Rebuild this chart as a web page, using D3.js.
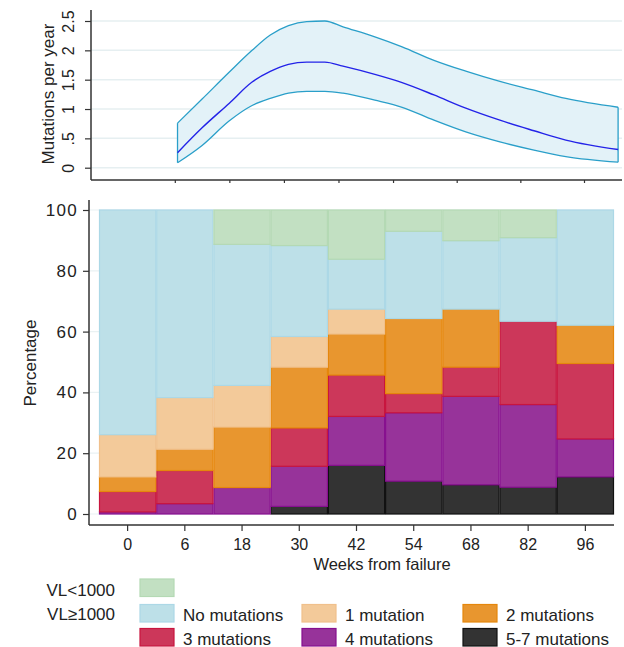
<!DOCTYPE html>
<html>
<head>
<meta charset="utf-8">
<script src="https://cdn.jsdelivr.net/npm/d3@7"></script>
<style>
  body { margin: 0; background: #fff; }
  svg { display: block; font-family: "Liberation Sans", Arial, sans-serif; }
</style>
</head>
<body>
<svg id="chart" width="624" height="647"></svg>
<script>
// top panel: mutation rate curve with band
const rateWeeks = [6.6, 12, 18, 23, 27, 31, 35, 39, 43, 50, 56, 63, 70, 77.5, 85, 92, 103.5];
const rateMean  = [0.256, 0.68, 1.10, 1.46, 1.64, 1.76, 1.80, 1.80, 1.73, 1.59, 1.45, 1.24, 1.015, 0.81, 0.63, 0.47, 0.31];
const rateUpper = [0.76, 1.17, 1.63, 2.0, 2.26, 2.42, 2.49, 2.50, 2.40, 2.23, 2.06, 1.83, 1.645, 1.47, 1.32, 1.18, 1.03];
const rateLower = [0.085, 0.38, 0.80, 1.06, 1.18, 1.27, 1.30, 1.30, 1.27, 1.15, 1.03, 0.81, 0.61, 0.44, 0.30, 0.19, 0.095];
const topTicksX = [6, 18, 30, 42, 54, 68, 82, 96];
const topTicksY = [0, 0.5, 1, 1.5, 2, 2.5];
const topTickLabels = ["0", ".5", "1", "1.5", "2", "2.5"];

// bottom panel: stacked percentages
const weeks = ["0", "6", "18", "30", "42", "54", "68", "82", "96"];
const mut57  = [0, 0, 0, 2.5, 16.0, 10.8, 9.6, 8.8, 12.2];
const mut4   = [0.7, 3.4, 8.7, 13.2, 16.1, 22.5, 29.1, 27.2, 12.5];
const mut3   = [6.7, 10.9, 0, 12.6, 13.6, 6.3, 9.6, 27.4, 24.8];
const mut2   = [4.8, 7.0, 19.9, 20.0, 13.5, 24.7, 19.1, 0, 12.6];
const mut1   = [13.9, 17.0, 13.7, 10.1, 8.2, 0, 0, 0, 0];
const mut0   = [73.9, 61.7, 46.4, 29.9, 16.4, 28.7, 22.5, 27.5, 37.9];
const vlLow  = [0, 0, 11.3, 11.7, 16.2, 7.0, 10.1, 9.1, 0];
const pctTicks = [0, 20, 40, 60, 80, 100];

const seriesNames = ["5-7 mutations", "4 mutations", "3 mutations", "2 mutations", "1 mutation", "No mutations", "VL<1000"];
const seriesValues = [mut57, mut4, mut3, mut2, mut1, mut0, vlLow];
const fills   = ["#333333", "#97339a", "#cc375a", "#e8962f", "#f3ca9a", "#bde0e8", "#c2e0c2"];
const strokes = ["#111111", "#87108f", "#c8153e", "#e5870c", "#f0c08c", "#acd8e6", "#b4d9b4"];

const svg = d3.select("#chart");
const axisColor = "#333";

// ---------- top panel ----------
const xTop = d3.scaleLinear().domain([6, 96]).range([174.8, 584]);
const yTop = d3.scaleLinear().domain([0, 2.5]).range([167.7, 21]);
const topG = svg.append("g");

topG.selectAll(".gridTop")
  .data(topTicksY)
  .enter().append("line")
  .attr("x1", 91).attr("x2", 622)
  .attr("y1", d => yTop(d)).attr("y2", d => yTop(d))
  .attr("stroke", "#e6eff1").attr("stroke-width", 1.5);

const rateData = rateWeeks.map((w, i) => ({ w, m: rateMean[i], lo: rateLower[i], hi: rateUpper[i] }));
const first = rateData[0], last = rateData[rateData.length - 1];

topG.append("path")
  .datum(rateData)
  .attr("fill", "#e3f2f8")
  .attr("stroke", "none")
  .attr("d", d3.area().x(d => xTop(d.w)).y0(d => yTop(d.lo)).y1(d => yTop(d.hi)).curve(d3.curveMonotoneX));

// band edges
["hi", "lo"].forEach(key => {
  topG.append("path")
    .datum(rateData)
    .attr("fill", "none")
    .attr("stroke", "#2a9fc9")
    .attr("stroke-width", 1.3)
    .attr("d", d3.line().x(d => xTop(d.w)).y(d => yTop(d[key])).curve(d3.curveMonotoneX));
});
[first, last].forEach(d => {
  topG.append("line")
    .attr("x1", xTop(d.w)).attr("x2", xTop(d.w))
    .attr("y1", yTop(d.lo)).attr("y2", yTop(d.hi))
    .attr("stroke", "#2a9fc9").attr("stroke-width", 1.3);
});

topG.append("path")
  .datum(rateData)
  .attr("fill", "none")
  .attr("stroke", "#2323e8")
  .attr("stroke-width", 1.4)
  .attr("d", d3.line().x(d => xTop(d.w)).y(d => yTop(d.m)).curve(d3.curveMonotoneX));

// axes
topG.append("line").attr("x1", 91).attr("x2", 91).attr("y1", 10).attr("y2", 180)
  .attr("stroke", axisColor).attr("stroke-width", 1.5);
topG.append("line").attr("x1", 91).attr("x2", 622).attr("y1", 180).attr("y2", 180)
  .attr("stroke", axisColor).attr("stroke-width", 1.5);

const yAxisTop = topG.append("g")
  .attr("transform", "translate(91,0)")
  .call(d3.axisLeft(yTop).tickValues(topTicksY).tickSize(6).tickFormat((d, i) => topTickLabels[i]));
yAxisTop.select(".domain").remove();
yAxisTop.selectAll("line").attr("stroke", axisColor).attr("stroke-width", 1.2);
yAxisTop.selectAll("text")
  .attr("x", null).attr("dy", null)
  .attr("transform", "translate(-17,0) rotate(-90)")
  .attr("text-anchor", "middle")
  .style("font-size", "16px").style("font-family", "Liberation Sans, Arial, sans-serif")
  .attr("fill", "#222");

const xAxisTop = topG.append("g")
  .attr("transform", "translate(0,180)")
  .call(d3.axisBottom(xTop).tickValues(topTicksX).tickSize(3).tickFormat(""));
xAxisTop.select(".domain").remove();
xAxisTop.selectAll("line").attr("stroke", axisColor).attr("stroke-width", 1.2);

topG.append("text")
  .attr("transform", "translate(54,94) rotate(-90)")
  .attr("text-anchor", "middle")
  .style("font-size", "17px")
  .attr("fill", "#222")
  .text("Mutations per year");

// ---------- bottom panel ----------
const xBar = d3.scaleBand().domain(weeks).range([99, 614]).padding(0);
const yBar = d3.scaleLinear().domain([0, 100]).range([514, 210]);
const bottomG = svg.append("g");

bottomG.selectAll(".gridBot")
  .data(pctTicks)
  .enter().append("line")
  .attr("x1", 89).attr("x2", 614)
  .attr("y1", d => yBar(d)).attr("y2", d => yBar(d))
  .attr("stroke", "#eaf2f3").attr("stroke-width", 1.2);

const stack = d3.stack().keys(seriesNames.map((_, i) => i)).value((d, k) => seriesValues[k][d]);
const stacked = stack(weeks.map((_, i) => i));

stacked.forEach((layer, k) => {
  bottomG.selectAll(`.seg${k}`)
    .data(layer.filter(d => d[1] - d[0] > 0))
    .enter().append("rect")
    .attr("class", `seg${k}`)
    .attr("x", d => xBar(weeks[d.data]) + 0.5)
    .attr("width", xBar.bandwidth() - 1)
    .attr("y", d => yBar(d[1]))
    .attr("height", d => yBar(d[0]) - yBar(d[1]))
    .attr("fill", fills[k])
    .attr("stroke", strokes[k])
    .attr("stroke-width", 1.2);
});

bottomG.append("line").attr("x1", 89).attr("x2", 89).attr("y1", 200).attr("y2", 525)
  .attr("stroke", axisColor).attr("stroke-width", 1.5);
bottomG.append("line").attr("x1", 89).attr("x2", 614).attr("y1", 525).attr("y2", 525)
  .attr("stroke", axisColor).attr("stroke-width", 1.5);

const yAxisBot = bottomG.append("g")
  .attr("transform", "translate(89,0)")
  .call(d3.axisLeft(yBar).tickValues(pctTicks).tickSize(6).tickPadding(5));
yAxisBot.select(".domain").remove();
yAxisBot.selectAll("line").attr("stroke", axisColor).attr("stroke-width", 1.2);
yAxisBot.selectAll("text")
  .style("font-size", "17px").style("font-family", "Liberation Sans, Arial, sans-serif")
  .style("letter-spacing", "1.3px")
  .attr("fill", "#222");

const xAxisBot = bottomG.append("g")
  .attr("transform", "translate(0,525)")
  .call(d3.axisBottom(xBar).tickSize(6).tickPadding(8));
xAxisBot.select(".domain").remove();
xAxisBot.selectAll("line").attr("stroke", axisColor).attr("stroke-width", 1.2);
xAxisBot.selectAll("text")
  .style("font-size", "16px").style("font-family", "Liberation Sans, Arial, sans-serif")
  .attr("fill", "#222");

bottomG.append("text")
  .attr("transform", "translate(36,363) rotate(-90)")
  .attr("text-anchor", "middle")
  .style("font-size", "17px")
  .attr("fill", "#222")
  .text("Percentage");

bottomG.append("text")
  .attr("x", 382).attr("y", 570)
  .attr("text-anchor", "middle")
  .style("font-size", "16.5px")
  .attr("fill", "#222")
  .text("Weeks from failure");

// ---------- legend ----------
const legend = svg.append("g").style("font-size", "17px").attr("fill", "#222");
legend.append("text").attr("x", 115).attr("y", 596).attr("text-anchor", "end").text("VL<1000");
legend.append("text").attr("x", 115).attr("y", 620).attr("text-anchor", "end").text("VL\u22651000");

// [series index, column, row]
const legendItems = [[6, 0, 0], [5, 0, 1], [4, 1, 1], [3, 2, 1], [2, 0, 2], [1, 1, 2], [0, 2, 2]];
const colX = [140, 302, 463];
const rowY = [579, 604.5, 628.5];
legendItems.forEach(([k, c, r]) => {
  legend.append("rect")
    .attr("x", colX[c]).attr("y", rowY[r])
    .attr("width", 34).attr("height", 17.5)
    .attr("fill", fills[k]).attr("stroke", strokes[k]).attr("stroke-width", 1.2);
  if (k !== 6) {
    legend.append("text")
      .attr("x", colX[c] + 43).attr("y", rowY[r] + 16)
      .text(seriesNames[k]);
  }
});
</script>
</body>
</html>
